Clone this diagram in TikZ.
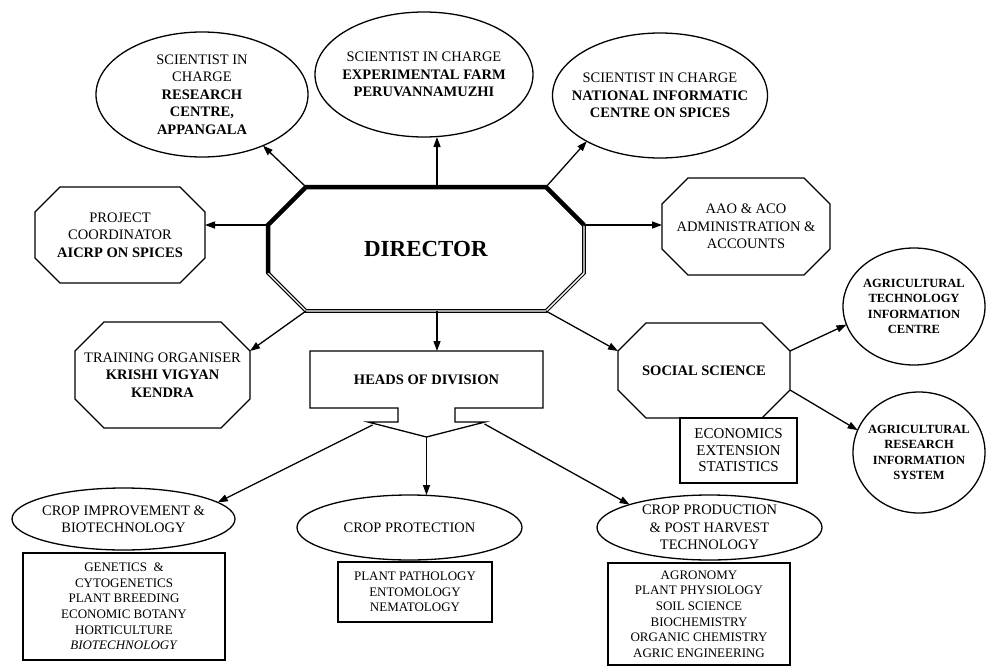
\documentclass[tikz,border=0pt]{standalone}
\usepackage{fontspec}
\setmainfont{Liberation Serif}
\usepackage{tikz}
\usetikzlibrary{positioning, arrows.meta, shapes.geometric, calc}

\newcommand\mainsize{\fontsize{14.5}{17.5}\selectfont}
\newcommand\listsize{\fontsize{13}{15.6}\selectfont}
\newcommand\agrisize{\fontsize{12.5}{15.5}\selectfont}
\newcommand\dirsize{\fontsize{23}{27}\selectfont}

% octagon round a named node: [options]{node}{cut}
\newcommand\octagon[3][]{%
  \draw[#1] ($(#2.north west)+(#3,0)$) -- ($(#2.north east)+(-#3,0)$) -- ($(#2.north east)+(0,#3)$)
    -- ($(#2.south east)+(0,-#3)$) -- ($(#2.south east)+(-#3,0)$) -- ($(#2.south west)+(#3,0)$)
    -- ($(#2.south west)+(0,-#3)$) -- ($(#2.north west)+(0,#3)$) -- cycle;}

\begin{document}
\begin{tikzpicture}[x=1pt,y=-1pt,line width=1.3pt,>={Triangle[length=10pt,width=7pt]},
    octbox/.style={rectangle,inner sep=0pt,outer sep=0pt,align=center,font=\mainsize},
    oval/.style={ellipse,draw,inner sep=-40pt,outer sep=0pt,align=center,font=\mainsize},
    listbox/.style={rectangle,draw,inner sep=0pt,outer sep=0pt,align=center,font=\listsize},
  ]
  \useasboundingbox (0,0) rectangle (987,666);

  \node[octbox, minimum width=316pt, minimum height=124pt, font=\dirsize] (dir) at (426,249) {\textbf{DIRECTOR}};
  \node[octbox, minimum width=170pt, minimum height=96pt] (proj) at (120,235) {PROJECT\\COORDINATOR\\\textbf{AICRP ON SPICES}};
  \node[octbox, minimum width=168pt, minimum height=97pt] (aao) at (746,226.5) {AAO \& ACO\\ADMINISTRATION \&\\ACCOUNTS};
  \node[octbox, minimum width=175pt, minimum height=106pt] (train) at (162.5,375) {TRAINING ORGANISER\\\textbf{KRISHI VIGYAN}\\\textbf{KENDRA}};
  \node[octbox, minimum width=172pt, minimum height=95pt] (soc) at (704,370.5) {\textbf{SOCIAL SCIENCE}};
  \node[octbox, minimum width=233pt, minimum height=57pt] (heads) at (426.5,379.5) {\textbf{HEADS OF DIVISION}};

  \node[oval, minimum width=212pt, minimum height=125pt] (res) at (202,94.5) {SCIENTIST IN\\CHARGE\\\textbf{RESEARCH}\\\textbf{CENTRE,}\\\textbf{APPANGALA}};
  \node[oval, minimum width=218pt, minimum height=125pt] (exp) at (424,74.5) {SCIENTIST IN CHARGE\\\textbf{EXPERIMENTAL FARM}\\\textbf{PERUVANNAMUZHI}};
  \node[oval, minimum width=215pt, minimum height=125pt] (info) at (660,95.5) {SCIENTIST IN CHARGE\\\textbf{NATIONAL INFORMATIC}\\\textbf{CENTRE ON SPICES}};
  \node[oval, minimum width=142pt, minimum height=117pt, font=\agrisize\bfseries] (agtech) at (914,306.5) {AGRICULTURAL\\TECHNOLOGY\\INFORMATION\\CENTRE};
  \node[oval, minimum width=132pt, minimum height=121pt, font=\agrisize\bfseries] (agres) at (919,452.5) {AGRICULTURAL\\RESEARCH\\INFORMATION\\SYSTEM};
  \node[oval, minimum width=223pt, minimum height=62pt] (cimp) at (123.5,519) {CROP IMPROVEMENT \&\\BIOTECHNOLOGY};
  \node[oval, minimum width=225pt, minimum height=65pt] (cprot) at (409.5,527.5) {CROP PROTECTION};
  \node[oval, minimum width=225pt, minimum height=65pt] (cprod) at (709.5,527.5) {CROP PRODUCTION\\\& POST HARVEST\\TECHNOLOGY};

  \node[listbox, minimum width=117pt, minimum height=65pt, font=\fontsize{15}{16.5}\selectfont] (econ) at (738.5,450.5) {ECONOMICS\\EXTENSION\\STATISTICS};
  \node[listbox, minimum width=202pt, minimum height=107pt] (gen) at (124,606.5) {GENETICS \ \&\\CYTOGENETICS\\PLANT BREEDING\\ECONOMIC BOTANY\\HORTICULTURE\\\textit{BIOTECHNOLOGY}};
  \node[listbox, minimum width=154pt, minimum height=60pt] (path) at (415,592) {PLANT PATHOLOGY\\ENTOMOLOGY\\NEMATOLOGY};
  \node[listbox, minimum width=182pt, minimum height=102pt] (agro) at (699,614) {AGRONOMY\\PLANT PHYSIOLOGY\\SOIL SCIENCE\\BIOCHEMISTRY\\ORGANIC CHEMISTRY\\AGRIC ENGINEERING};

  \octagon[line width=1.2pt, double, double distance=1.4pt]{dir}{38}
  \draw[line width=4.5pt] ($(dir.south west)+(0,-38)$) -- ($(dir.north west)+(0,38)$) -- ($(dir.north west)+(38,0)$) -- ($(dir.north east)+(-38,0)$) -- ($(dir.north east)+(0,38)$);
  \octagon{proj}{25}
  \octagon{aao}{26}
  \octagon{train}{29}
  \octagon{soc}{28}
  \draw (heads.north west) -- (heads.north east) -- (heads.south east) -- ($(heads.south)+(28.5,0)$) -- ++(0,14) -- ++(30,0) -- ($(heads.south)+(0,29)$) coordinate (htip) -- ($(heads.south)+(-58.5,14)$) -- ++(30,0) -- ++(0,-14) -- (heads.south west) -- cycle;

  \coordinate (dtop) at ($(dir.north)+(11,0)$);
  \coordinate (dbot) at ($(dir.south)+(11,0)$);
  \coordinate (dw) at ($(dir.north west)+(0,38)$);
  \coordinate (de) at ($(dir.north east)+(0,38)$);

  \draw[->] ($(dir.north west)+(38,0)$) -- (res.-40);
  \draw[->] (dtop) -- (dtop |- exp.south);
  \draw[->] ($(dir.north east)+(-38,0)$) -- (info.-148);
  \draw[->] (dw) -- (dw -| proj.east);
  \draw[->] (de) -- (de -| aao.west);
  \draw[->] ($(dir.south west)+(38,0)$) -- ($(train.north east)+(0,29)$);
  \draw[->] (dbot) -- (dbot |- heads.north);
  \draw[->] ($(dir.south east)+(-38,0)$) -- ($(soc.north west)+(0,28)$);
  \draw[->] ($(soc.north east)+(0,28)$) -- (agtech.-165);
  \draw[->] ($(soc.south east)+(0,-28)$) -- (agres.160);

  \draw[->] ($(heads.south)+(-54,17)$) -- (cimp.10);
  \draw[->] (htip) -- (htip |- cprot.north);
  \draw[->] ($(heads.south)+(58,16)$) -- (cprod.164);

\end{tikzpicture}
\end{document}
